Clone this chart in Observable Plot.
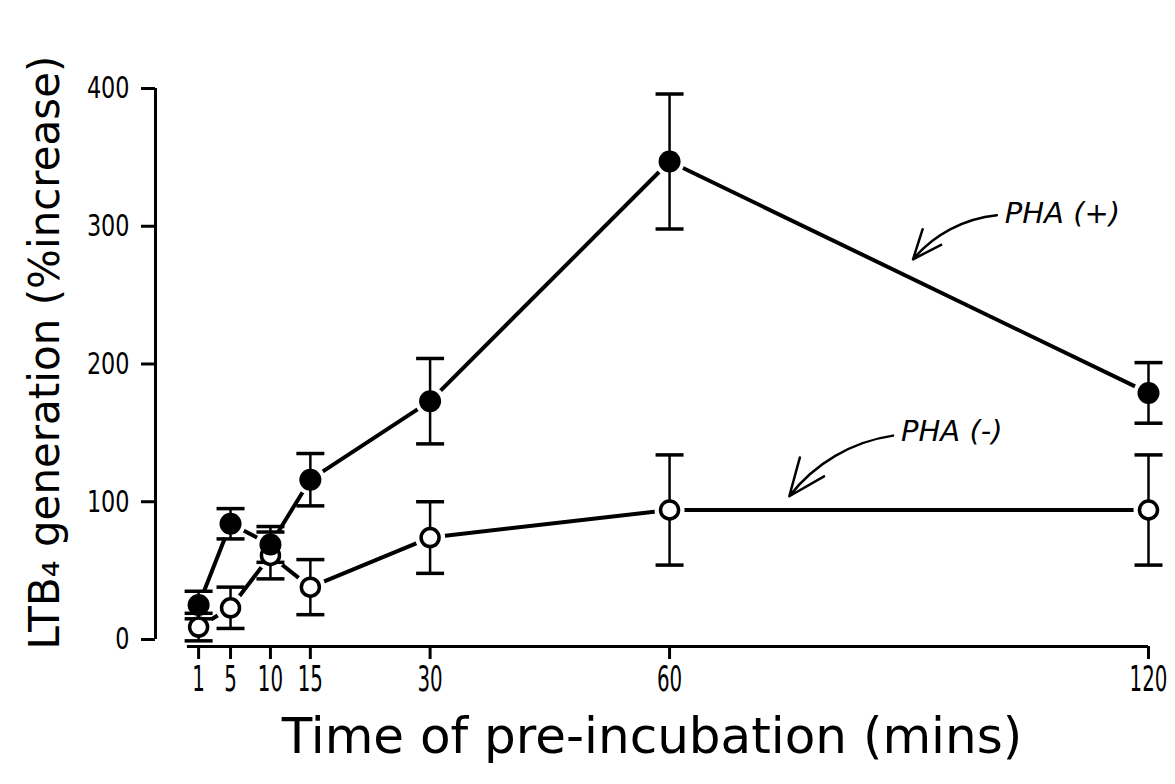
<!DOCTYPE html>
<html>
<head>
<meta charset="utf-8">
<script src="https://cdn.jsdelivr.net/npm/d3@7"></script>
<script src="https://cdn.jsdelivr.net/npm/@observablehq/plot@0.6"></script>
<style>
  body { margin: 0; background: #fff; }
  #chart svg { display: block; }
</style>
</head>
<body>
<div id="chart"></div>
<script>
// Pre-incubation times (minutes)
const times = [1, 5, 10, 15, 30, 60, 120];
// LTB4 generation, % increase, with error bars
const phaPlus = [25, 84, 69, 116, 173, 347, 179];
const phaPlusErr = [10, 11, 13, 19, 31, 49, 22];
const phaMinus = [9, 23, 61, 38, 74, 94, 94];
const phaMinusErr = [10, 15, 17, 20, 26, 40, 40];
const yTicks = [0, 100, 200, 300, 400];

// Series labels and their pointer arrows (data units)
const noteLabels = ["PHA (+)", "PHA (-)"];
const noteX = [102, 89];
const noteY = [309, 151];
const arrowFromX = [101, 88];
const arrowFromY = [308, 148];
const arrowToX = [90.5, 75];
const arrowToY = [276, 104];

const xMin = -4.4, yMin = -5.1;

const plus = times.map((t, i) => ({t, v: phaPlus[i], e: phaPlusErr[i]}));
const minus = times.map((t, i) => ({t, v: phaMinus[i], e: phaMinusErr[i]}));
const all = minus.concat(plus);
const notes = noteLabels.map((label, i) => ({
  label, x: noteX[i], y: noteY[i],
  x1: arrowFromX[i], y1: arrowFromY[i], x2: arrowToX[i], y2: arrowToY[i]
}));

// horizontal cap for the error bars
const cap = {
  draw(context, size) {
    const r = Math.sqrt(size / Math.PI);
    context.moveTo(-r, 0);
    context.lineTo(r, 0);
  }
};

const chart = Plot.plot({
  width: 1175,
  height: 784,
  marginLeft: 155,
  marginRight: 27,
  marginTop: 88,
  marginBottom: 138,
  style: {fontFamily: "DejaVu Sans", fontSize: "32px", background: "#fff", color: "#000"},
  x: {domain: [xMin, 120], ticks: times, tickSize: 13, tickPadding: 6, label: null},
  y: {domain: [yMin, 400], ticks: yTicks, tickSize: 14, tickPadding: 12, label: null},
  marks: [
    Plot.ruleX([xMin], {y1: 0, y2: 400, strokeWidth: 3}),
    Plot.ruleY([yMin], {x1: -0.4, x2: 120, strokeWidth: 3}),
    Plot.line(minus, {x: "t", y: "v", stroke: "#000", strokeWidth: 4}),
    Plot.line(plus, {x: "t", y: "v", stroke: "#000", strokeWidth: 4}),
    Plot.dot(all, {x: "t", y: "v", r: 15, fill: "#fff"}),
    Plot.ruleX(all, {x: "t", y1: d => d.v - d.e, y2: d => d.v + d.e, strokeWidth: 2.5}),
    Plot.dot(all, {x: "t", y: d => d.v + d.e, symbol: cap, r: 14, fill: "none", stroke: "#000", strokeWidth: 3.5}),
    Plot.dot(all, {x: "t", y: d => d.v - d.e, symbol: cap, r: 14, fill: "none", stroke: "#000", strokeWidth: 3.5}),
    Plot.dot(minus, {x: "t", y: "v", r: 9, fill: "#fff", stroke: "#000", strokeWidth: 3.5}),
    Plot.dot(plus, {x: "t", y: "v", r: 11, fill: "#000"}),
    Plot.arrow(notes, {x1: "x1", y1: "y1", x2: "x2", y2: "y2", bend: -22, headLength: 38, headAngle: 45, strokeWidth: 2.5}),
    Plot.text(notes, {x: "x", y: "y", text: "label", textAnchor: "start", fontStyle: "italic", fontSize: 29}),
    Plot.text(["Time of pre-incubation (mins)"], {text: d => d, frameAnchor: "bottom", dy: 106, fontSize: 50}),
    Plot.text(["LTB\u2084 generation (%increase)"], {text: d => d, frameAnchor: "left", textAnchor: "middle", rotate: -90, dx: -110, dy: -15, fontSize: 42})
  ]
});

document.getElementById("chart").appendChild(chart);

// narrow lettering for the tick labels
function condense(selector, size, factor) {
  chart.querySelectorAll(selector).forEach(g => {
    g.setAttribute("font-size", size);
    g.querySelectorAll("text").forEach(t => {
      const len = t.getComputedTextLength();
      t.setAttribute("textLength", len * factor);
      t.setAttribute("lengthAdjust", "spacingAndGlyphs");
    });
  });
}
condense('g[aria-label="x-axis tick label"]', 36, 0.55);
condense('g[aria-label="y-axis tick label"]', 31, 0.72);
// heavier tick strokes
chart.querySelectorAll('g[aria-label="x-axis tick"], g[aria-label="y-axis tick"]').forEach(g => {
  g.setAttribute("stroke-width", 3);
});
</script>
</body>
</html>
